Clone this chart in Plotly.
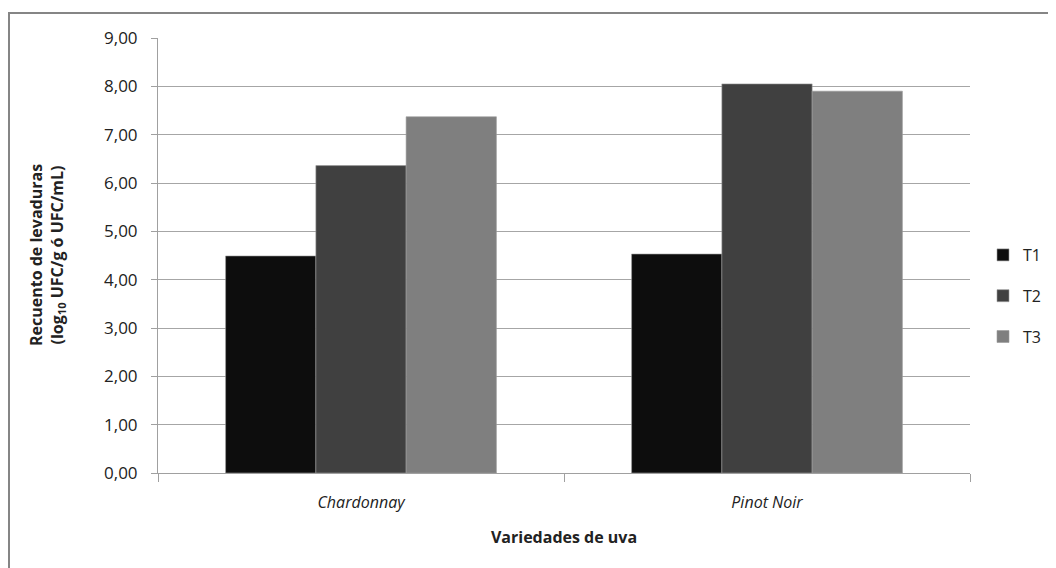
import plotly.graph_objects as go

categories = ["Chardonnay", "Pinot Noir"]
series_names = ["T1", "T2", "T3"]
t1_values = [4.49, 4.53]
t2_values = [6.36, 8.05]
t3_values = [7.37, 7.90]
y_ticks = [0, 1, 2, 3, 4, 5, 6, 7, 8, 9]

colors = ["#0d0d0d", "#404040", "#7f7f7f"]
values = [t1_values, t2_values, t3_values]

FONT = "Open Sans"
# page has an 8px body margin; figure sized to the visible area
W, H = 1048, 560
L, R, T, B = 150, 86, 30, 95
pw, ph = W - L - R, H - T - B

fig = go.Figure()
for i, (name, vals) in enumerate(zip(series_names, values)):
    fig.add_trace(go.Bar(
        x=[f"<i>{c}</i>" for c in categories], y=vals, name=name,
        marker=dict(color=colors[i], line=dict(color="#9a9a9a", width=0.6)),
        legendgroup=name,
    ))

fig.update_layout(
    width=W, height=H,
    margin=dict(l=L, r=R, t=T, b=B, autoexpand=False),
    paper_bgcolor="white", plot_bgcolor="white",
    barmode="group", bargap=0.333, bargroupgap=0,
    separators=",.",
    font=dict(family=FONT, size=16, color="#222222"),
    showlegend=True,
    legend=dict(x=(975 - L) / pw, y=(H - B - 288) / ph, xanchor="left", yanchor="middle",
                font=dict(size=16, color="#222222"), tracegroupgap=17,
                bgcolor="rgba(0,0,0,0)"),
    xaxis=dict(
        type="category", tickson="boundaries", ticks="outside", ticklen=8,
        tickcolor="#a0a0a0", showline=True, linecolor="#a0a0a0", linewidth=1,
        showgrid=False, ticklabelstandoff=15,
        tickfont=dict(size=16, color="#222222"),
        title=dict(text="<b>Variedades de uva</b>", standoff=19,
                   font=dict(size=16, color="#222222")),
    ),
    yaxis=dict(
        range=[0, 9], tickvals=y_ticks, tickformat=".2f",
        ticks="outside", ticklen=6, tickcolor="#a0a0a0",
        showline=True, linecolor="#a0a0a0", linewidth=1,
        showgrid=True, gridcolor="#a6a6a6", gridwidth=1,
        zeroline=False, ticklabelstandoff=10,
        tickfont=dict(size=17, color="#222222"),
    ),
)

fig.add_annotation(
    text="<b>Recuento de levaduras</b><br><b>(log<sub>10</sub> UFC/g ó UFC/mL)</b>",
    xref="paper", yref="paper", x=(39 - L) / pw, y=(H - B - 247) / ph,
    xanchor="center", yanchor="middle", textangle=-90, showarrow=False,
    font=dict(size=16, color="#222222"),
)

# outer chart frame (only top and left visible in the reference)
fig.add_shape(type="rect", xref="paper", yref="paper",
              x0=(1 - L) / pw, x1=(1070 - L) / pw,
              y0=(H - B - 580) / ph, y1=(H - B - 5) / ph,
              line=dict(color="#858585", width=2), fillcolor="rgba(0,0,0,0)", layer="below")

fig.write_html("out.html")
